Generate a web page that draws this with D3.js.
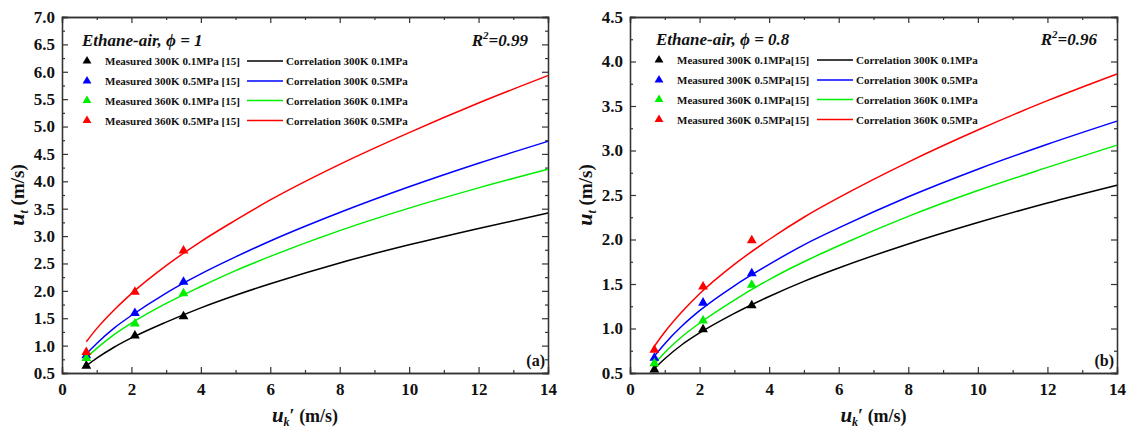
<!DOCTYPE html>
<html>
<head>
<meta charset="utf-8">
<script src="https://cdn.jsdelivr.net/npm/d3@7/dist/d3.min.js"></script>
<style>
  body { margin: 0; background: #fff; }
  svg { display: block; }
  svg text { font-family: 'Liberation Serif', 'DejaVu Serif', 'Times New Roman', serif; font-weight: bold; fill: #111; }
  .axis path, .axis line { stroke: #333; }
</style>
</head>
<body>
<div id="chart"></div>
<script>
//// DATA

const CURVE_X = [0.7, 1, 1.5, 2, 3, 4, 5, 6, 8, 10, 12, 14];
const MEAS_X = [0.7, 2.1, 3.5];

const SERIES_KEYS = ["300K 0.1MPa", "300K 0.5MPa", "360K 0.1MPa", "360K 0.5MPa"];
const SERIES_COLORS = ["#000000", "#0000ff", "#00ee00", "#ff0000"];

// panel (a) phi = 1
const A_CORR_300_01 = [0.63, 0.77, 0.97, 1.14, 1.43, 1.69, 1.92, 2.13, 2.51, 2.84, 3.14, 3.42];
const A_CORR_300_05 = [0.85, 1.04, 1.32, 1.55, 1.96, 2.31, 2.62, 2.91, 3.43, 3.90, 4.33, 4.73];
const A_CORR_360_01 = [0.78, 0.95, 1.20, 1.41, 1.77, 2.08, 2.37, 2.63, 3.10, 3.51, 3.88, 4.22];
const A_CORR_360_05 = [1.07, 1.31, 1.65, 1.95, 2.46, 2.90, 3.29, 3.66, 4.31, 4.89, 5.43, 5.93];
const A_MEAS_300_01 = [0.65, 1.20, 1.55];
const A_MEAS_300_05 = [0.84, 1.61, 2.18];
const A_MEAS_360_01 = [0.79, 1.42, 1.97];
const A_MEAS_360_05 = [0.90, 2.00, 2.75];

// panel (b) phi = 0.8
const B_CORR_300_01 = [0.55, 0.66, 0.82, 0.95, 1.17, 1.36, 1.53, 1.68, 1.95, 2.19, 2.41, 2.61];
const B_CORR_300_05 = [0.69, 0.83, 1.03, 1.20, 1.48, 1.72, 1.94, 2.13, 2.48, 2.79, 3.07, 3.33];
const B_CORR_360_01 = [0.60, 0.73, 0.91, 1.06, 1.32, 1.55, 1.75, 1.93, 2.26, 2.55, 2.81, 3.06];
const B_CORR_360_05 = [0.80, 0.96, 1.19, 1.39, 1.72, 2.00, 2.25, 2.47, 2.87, 3.23, 3.56, 3.86];
const B_MEAS_300_01 = [0.55, 1.00, 1.27];
const B_MEAS_300_05 = [0.68, 1.30, 1.63];
const B_MEAS_360_01 = [0.62, 1.10, 1.50];
const B_MEAS_360_05 = [0.77, 1.48, 2.00];

const X_TICKS = [0, 2, 4, 6, 8, 10, 12, 14];
const X_MINOR = [1, 3, 5, 7, 9, 11, 13];
const A_Y_TICKS = [0.5, 1.0, 1.5, 2.0, 2.5, 3.0, 3.5, 4.0, 4.5, 5.0, 5.5, 6.0, 6.5, 7.0];
const B_Y_TICKS = [0.5, 1.0, 1.5, 2.0, 2.5, 3.0, 3.5, 4.0, 4.5];

//////////////
const W = 1127, H = 429;
const TOP = 17, BOTTOM = 373;
const FONT = "'Liberation Serif', 'DejaVu Serif', 'Times New Roman', serif";

const svg = d3.select("#chart").append("svg")
  .attr("width", W)
  .attr("height", H)
  .attr("font-family", FONT);

const PANELS = [
  {
    left: 62, right: 548, yDomain: [0.5, 7.0], yTicks: A_Y_TICKS,
    title: "Ethane-air, ", phi: "1", r2: "0.99", tag: "(a)", ref: " [15]",
    corr: [A_CORR_300_01, A_CORR_300_05, A_CORR_360_01, A_CORR_360_05],
    meas: [A_MEAS_300_01, A_MEAS_300_05, A_MEAS_360_01, A_MEAS_360_05],
    leg: { title: 20, tri: 25, text: 43, line0: 185, line1: 221, corr: 224, rows: [61, 81, 100.5, 120.5], titleY: 46 }
  },
  {
    left: 630, right: 1117, yDomain: [0.5, 4.5], yTicks: B_Y_TICKS,
    title: "Ethane-air, ", phi: "0.8", r2: "0.96", tag: "(b)", ref: "[15]",
    corr: [B_CORR_300_01, B_CORR_300_05, B_CORR_360_01, B_CORR_360_05],
    meas: [B_MEAS_300_01, B_MEAS_300_05, B_MEAS_360_01, B_MEAS_360_05],
    leg: { title: 26, tri: 29, text: 47, line0: 187, line1: 223, corr: 226, rows: [60, 80, 99.5, 119.5], titleY: 45 }
  }
];

const minorOf = (ticks) => {
  const out = [];
  for (let i = 0; i < ticks.length - 1; ++i) out.push((ticks[i] + ticks[i + 1]) / 2);
  return out;
};

const styleAxis = (g) => {
  g.attr("class", "axis").attr("font-family", FONT);
  g.select(".domain").attr("stroke-width", 1.3);
  g.selectAll(".tick line").attr("stroke-width", 1.2);
  g.selectAll(".tick text")
    .attr("font-size", 17)
    .attr("font-weight", "bold")
    .attr("fill", "#111");
};

const renderPanel = (p) => {
  const x = d3.scaleLinear().domain([0, 14]).range([p.left, p.right]);
  const y = d3.scaleLinear().domain(p.yDomain).range([BOTTOM, TOP]);
  const g = svg.append("g");

  // axes: major + minor ticks on all four sides, pointing inward
  g.append("g").attr("transform", `translate(0,${BOTTOM})`)
    .call(d3.axisBottom(x).tickValues(X_TICKS).tickSize(-6).tickPadding(10).tickFormat(d3.format("d")))
    .call(styleAxis);
  g.append("g").attr("transform", `translate(0,${BOTTOM})`)
    .call(d3.axisBottom(x).tickValues(X_MINOR).tickSize(-3).tickFormat(""))
    .call(styleAxis);
  g.append("g").attr("transform", `translate(0,${TOP})`)
    .call(d3.axisTop(x).tickValues(X_TICKS).tickSize(-6).tickFormat(""))
    .call(styleAxis);
  g.append("g").attr("transform", `translate(0,${TOP})`)
    .call(d3.axisTop(x).tickValues(X_MINOR).tickSize(-3).tickFormat(""))
    .call(styleAxis);

  g.append("g").attr("transform", `translate(${p.left},0)`)
    .call(d3.axisLeft(y).tickValues(p.yTicks).tickSize(-6).tickPadding(7).tickFormat(d3.format(".1f")))
    .call(styleAxis);
  g.append("g").attr("transform", `translate(${p.left},0)`)
    .call(d3.axisLeft(y).tickValues(minorOf(p.yTicks)).tickSize(-3).tickFormat(""))
    .call(styleAxis);
  g.append("g").attr("transform", `translate(${p.right},0)`)
    .call(d3.axisRight(y).tickValues(p.yTicks).tickSize(-6).tickFormat(""))
    .call(styleAxis);
  g.append("g").attr("transform", `translate(${p.right},0)`)
    .call(d3.axisRight(y).tickValues(minorOf(p.yTicks)).tickSize(-3).tickFormat(""))
    .call(styleAxis);

  // correlation curves
  const line = d3.line()
    .x((d, i) => x(CURVE_X[i]))
    .y(d => y(d))
    .curve(d3.curveMonotoneX);

  g.selectAll(".corr")
    .data(p.corr)
    .enter()
    .append("path")
    .attr("class", "corr")
    .attr("fill", "none")
    .attr("stroke", (d, i) => SERIES_COLORS[i])
    .attr("stroke-width", 1.5)
    .attr("d", line);

  // measured points
  const tri = d3.symbol().type(d3.symbolTriangle).size(42);
  p.meas.forEach((vals, k) => {
    g.selectAll(null)
      .data(vals)
      .enter()
      .append("path")
      .attr("d", tri)
      .attr("transform", (d, i) => `translate(${x(MEAS_X[i])},${y(d) + 1})`)
      .attr("fill", SERIES_COLORS[k]);
  });

  // title, R^2 and tag
  const t = g.append("text")
    .attr("x", p.left + p.leg.title)
    .attr("y", p.leg.titleY)
    .attr("font-size", 17)
    .attr("font-style", "italic");
  t.append("tspan").text(p.title);
  t.append("tspan").text("\u03d5 = " + p.phi);

  const r = g.append("text")
    .attr("x", p.right - 20)
    .attr("y", p.leg.titleY)
    .attr("text-anchor", "end")
    .attr("font-size", 17)
    .attr("font-style", "italic");
  r.append("tspan").text("R");
  r.append("tspan").attr("font-size", 11).attr("dy", -7).text("2");
  r.append("tspan").attr("dy", 7).text("=" + p.r2);

  g.append("text")
    .attr("x", p.right - 3)
    .attr("y", 366)
    .attr("text-anchor", "end")
    .attr("font-size", 16)
    .text(p.tag);

  // legend
  const leg = g.append("g");
  SERIES_KEYS.forEach((key, i) => {
    const ry = p.leg.rows[i];
    leg.append("path")
      .attr("d", d3.symbol().type(d3.symbolTriangle).size(34))
      .attr("transform", `translate(${p.left + p.leg.tri},${ry})`)
      .attr("fill", SERIES_COLORS[i]);
    leg.append("text")
      .attr("x", p.left + p.leg.text)
      .attr("y", ry + 4)
      .attr("font-size", 11)
      .text("Measured " + key + p.ref);
    leg.append("line")
      .attr("x1", p.left + p.leg.line0)
      .attr("x2", p.left + p.leg.line1)
      .attr("y1", ry)
      .attr("y2", ry)
      .attr("stroke", SERIES_COLORS[i])
      .attr("stroke-width", 1.5);
    leg.append("text")
      .attr("x", p.left + p.leg.corr)
      .attr("y", ry + 4)
      .attr("font-size", 11)
      .text("Correlation " + key);
  });

  // axis titles
  const cx = (p.left + p.right) / 2;
  const xl = g.append("text")
    .attr("x", cx)
    .attr("y", 422)
    .attr("text-anchor", "middle")
    .attr("font-size", 18);
  xl.append("tspan").attr("font-style", "italic").attr("font-size", 21).text("u");
  xl.append("tspan").attr("font-style", "italic").attr("font-size", 12).attr("dy", 4).text("k");
  xl.append("tspan").attr("dy", -4).text("\u2032 (m/s)");

  const yl = g.append("text")
    .attr("transform", `translate(${p.left - 38},${(TOP + BOTTOM) / 2}) rotate(-90)`)
    .attr("text-anchor", "middle")
    .attr("font-size", 19);
  yl.append("tspan").attr("font-style", "italic").attr("font-size", 22).text("u");
  yl.append("tspan").attr("font-style", "italic").attr("font-size", 12).attr("dy", 4).text("t");
  yl.append("tspan").attr("dy", -4).text(" (m/s)");
};

PANELS.forEach(renderPanel);
</script>
</body>
</html>
